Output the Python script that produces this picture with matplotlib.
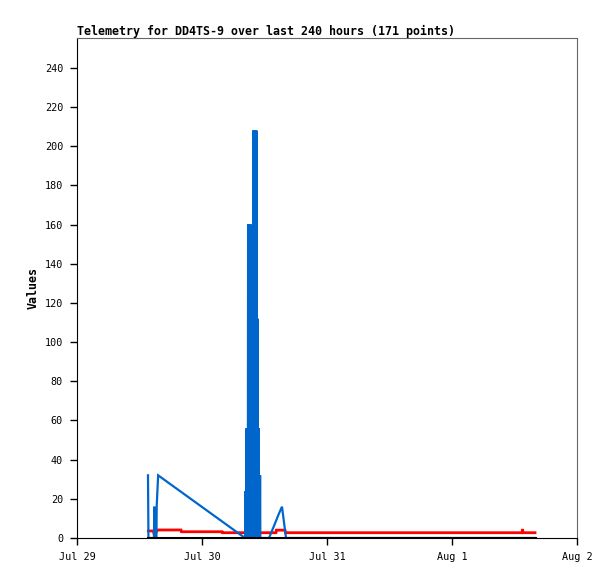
import matplotlib
matplotlib.use("Agg")
import matplotlib.pyplot as plt
from datetime import datetime, timedelta

# -----------------------------------------------------------------------------
# Data (hours after Jul 29 00:00)
# -----------------------------------------------------------------------------
start = datetime(2024, 7, 29)

blue_hours = [13.63, 13.72, 14.78, 14.84, 14.92, 15.25, 15.30, 15.42, 15.58,
              32.26,
              32.30, 32.35, 32.40, 32.45, 32.50, 32.55, 32.60, 32.65, 32.70,
              32.75, 32.80, 32.85, 32.90, 32.95, 33.00, 33.05, 33.10, 33.15,
              33.20, 33.25, 33.30, 33.35, 33.40, 33.45, 33.50, 33.55, 33.60,
              33.65, 33.70, 33.75, 33.80, 33.85, 33.90, 33.95, 34.00, 34.05,
              34.10, 34.15, 34.20, 34.25, 34.30, 34.35, 34.40, 34.45, 34.50,
              34.55, 34.60, 34.65, 34.70, 34.75, 34.80, 34.85, 34.90, 34.95,
              35.00, 35.05, 35.10, 35.15, 35.20,
              36.86, 37.80, 38.70, 39.36, 40.13, 87.94]
blue_values = [32, 0, 0, 16, 0, 0, 16, 23, 32,
               0,
               0, 24, 0, 24, 0, 56, 0, 56, 0,
               56, 0, 160, 0, 160, 0, 160, 0, 160,
               0, 160, 0, 160, 0, 144, 0, 144, 0,
               144, 0, 144, 0, 208, 0, 208, 0, 208,
               0, 208, 0, 208, 0, 208, 0, 208, 0,
               112, 0, 112, 0, 56, 0, 56, 0, 32,
               0, 32, 0, 32, 0,
               0, 6, 12, 16, 0, 0]

red_hours = [13.69, 14.65, 14.80, 15.30, 15.55, 19.97, 20.05, 27.84, 27.92,
             38.20, 38.28, 39.94, 40.02, 85.44, 85.54, 85.63, 87.94]
red_values = [3.6, 3.6, 2.0, 3.4, 4.1, 4.1, 3.2, 3.2, 2.7,
              2.7, 4.0, 4.0, 2.7, 2.7, 4.6, 2.7, 2.7]

black_hours = [13.55, 87.94]
black_values = [0, 0]

tick_days = [0, 1, 2, 3, 4]
tick_labels = ['Jul 29', 'Jul 30', 'Jul 31', 'Aug 1', 'Aug 2']
y_ticks = list(range(0, 241, 20))

title = 'Telemetry for DD4TS-9 over last 240 hours (171 points)'


def to_dates(hours):
    return [start + timedelta(hours=h) for h in hours]


# -----------------------------------------------------------------------------
# Plot
# -----------------------------------------------------------------------------
mono = 'DejaVu Sans Mono'
fig = plt.figure(figsize=(6.15, 5.79), dpi=100)
ax = fig.add_axes([77 / 615, 41 / 579, 500 / 615, 500 / 579])

ax.plot(to_dates(red_hours), red_values, color='#ff0000', lw=2.0,
        solid_joinstyle='miter')
ax.plot(to_dates(blue_hours), blue_values, color='#0066cc', lw=1.6,
        solid_joinstyle='miter')
ax.plot(to_dates(black_hours), black_values, color='black', lw=2.2)

ax.set_xlim(start, start + timedelta(days=4))
ax.set_ylim(0, 255.3)
ax.set_xticks([start + timedelta(days=d) for d in tick_days])
ax.set_xticklabels(tick_labels, family=mono, fontsize=7.3)
ax.set_yticks(y_ticks)
ax.set_yticklabels([str(v) for v in y_ticks], family=mono, fontsize=7.3)

ax.tick_params(axis='x', direction='out', length=5, width=1, pad=5)
ax.tick_params(axis='y', direction='out', length=5, width=1, pad=5)

for side in ['top', 'right']:
    ax.spines[side].set_color('#666666')
for side in ['left', 'bottom']:
    ax.spines[side].set_color('black')

ax.set_ylabel('Values', family=mono, fontsize=8.4, fontweight='bold', labelpad=4)
ax.set_title(title, family=mono, fontsize=8.4, fontweight='bold', loc='left', pad=2)

fig.savefig('out.png', dpi=100)
